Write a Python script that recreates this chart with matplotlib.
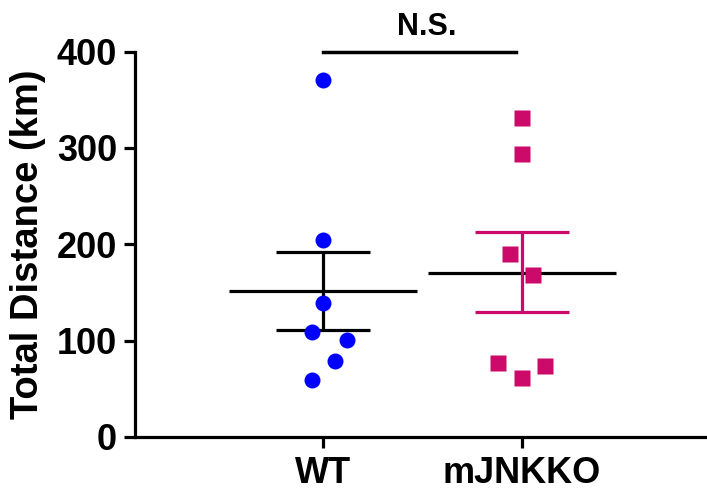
import matplotlib.pyplot as plt
import numpy as np

plt.rcParams['font.family'] = ['Liberation Sans', 'DejaVu Sans']
plt.rcParams['font.weight'] = 'bold'

# data
groups = ['WT', 'mJNKKO']
wt_vals = [370, 204, 139, 109, 101, 79, 59]
wt_offsets = [0.0, 0.0, 0.0, -0.055, 0.12, 0.06, -0.055]
ko_vals = [331, 294, 190, 168, 77, 61, 74]
ko_offsets = [0.0, 0.0, -0.06, 0.055, -0.12, 0.0, 0.115]
means = [151.6, 170.7]
sem_hi = [192, 212.5]
sem_lo = [111.5, 129.8]
sig_text = 'N.S.'

blue = '#0000ff'
pink = '#cc0a6a'
lw = 2.3

fig = plt.figure(figsize=(7.07, 4.91), dpi=100)
ax = fig.add_axes([0.191, 0.110, 0.809, 0.785])

# points
ax.plot(np.array(wt_offsets) + 0, wt_vals, 'o', color=blue, ms=11.5,
        mec='none', zorder=4, clip_on=False)
ax.plot(np.array(ko_offsets) + 1, ko_vals, 's', color=pink, ms=11.5,
        mec='none', zorder=4, clip_on=False)

# mean lines (both black)
for i in range(2):
    ax.hlines(means[i], i - 0.472, i + 0.472, color='black', lw=lw, zorder=2)

# error bars
err_cols = ['black', pink]
for i in range(2):
    c = err_cols[i]
    ax.vlines(i, sem_lo[i], sem_hi[i], color=c, lw=lw, zorder=2)
    ax.hlines([sem_lo[i], sem_hi[i]], i - 0.235, i + 0.235, color=c, lw=lw, zorder=2)

# significance bar
ax.plot([0, 0.97], [400, 400], color='black', lw=2.5, clip_on=False, zorder=3)
ax.text(0.52, 417, sig_text, ha='center', va='baseline', fontsize=22,
        fontweight='bold')

ax.set_xlim(-0.945, 1.93)
ax.set_ylim(0, 400)
ax.set_yticks([0, 100, 200, 300, 400])
ax.set_xticks([0, 1])
ax.set_xticklabels(groups, fontsize=26, fontweight='bold')
ax.tick_params(axis='y', labelsize=26, width=lw, length=8, pad=5)
ax.tick_params(axis='x', width=lw, length=8, pad=6)
for lab in ax.get_yticklabels():
    lab.set_fontweight('bold')

ax.set_ylabel('Total Distance (km)', fontsize=27.5, fontweight='bold', labelpad=7.5)

ax.spines['top'].set_visible(False)
ax.spines['right'].set_visible(False)
ax.spines['left'].set_linewidth(lw)
ax.spines['bottom'].set_linewidth(lw)

fig.savefig('out.png', dpi=100)
